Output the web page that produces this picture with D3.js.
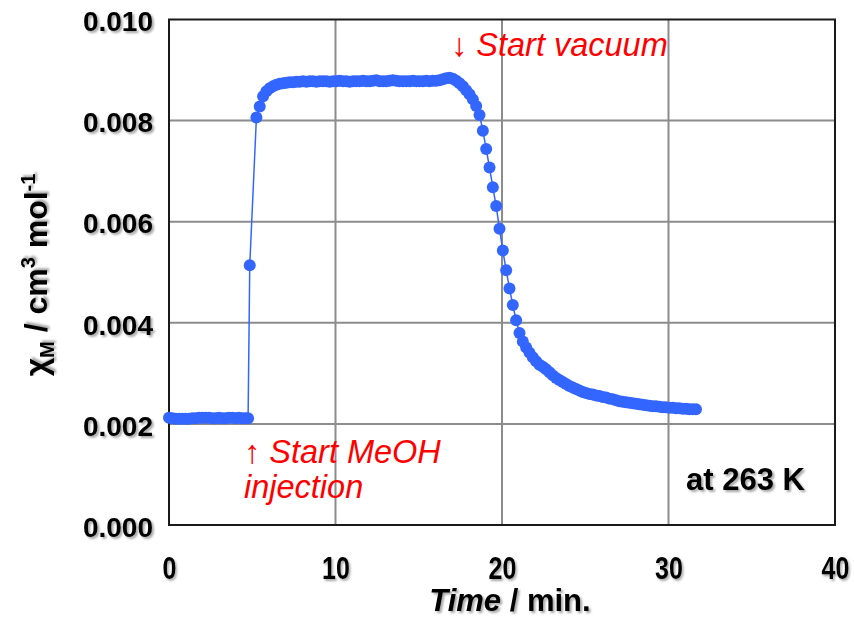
<!DOCTYPE html>
<html>
<head>
<meta charset="utf-8">
<script src="https://cdn.jsdelivr.net/npm/d3@7"></script>
<style>
  body { margin: 0; background: #fff; }
  text { font-family: "Liberation Sans", Arial, sans-serif; }
</style>
</head>
<body>
<div id="chart"></div>
<script>
// Data (time in min, chi_M in units of 1e-3 cm3 mol-1)
const times = [
  0, 0.2, 0.4, 0.6, 0.8, 1.0, 1.2, 1.4, 1.6, 1.8, 2.0, 2.2, 2.4, 2.6, 2.8, 3.0,
  3.2, 3.4, 3.6, 3.8, 4.0, 4.2, 4.4, 4.6, 4.75, 4.85,
  5.25, 5.45, 5.65, 5.85, 6.05, 6.25, 6.45, 6.65, 6.85, 7.05, 7.25, 7.45,
  7.65, 7.85, 8.05, 8.25, 8.45, 8.65, 8.85, 9.05, 9.25, 9.45,
  9.65, 9.85, 10.05, 10.25, 10.45, 10.65, 10.85, 11.05, 11.25, 11.45,
  11.65, 11.85, 12.05, 12.25, 12.45, 12.65, 12.85, 13.05, 13.25, 13.45,
  13.65, 13.85, 14.05, 14.25, 14.45, 14.65, 14.85, 15.05, 15.25, 15.45,
  15.65, 15.85, 16.05,
  16.25, 16.45, 16.65, 16.85, 17.05, 17.25, 17.45, 17.65, 17.85, 18.05,
  18.25, 18.45, 18.65, 18.85, 19.05, 19.25, 19.45, 19.65, 19.85, 20.05,
  20.25, 20.45, 20.65, 20.85, 21.05,
  21.25, 21.45, 21.65, 21.85, 22.05, 22.25, 22.45, 22.65, 22.85, 23.05,
  23.25, 23.45, 23.65, 23.85, 24.05, 24.25, 24.45, 24.65, 24.85, 25.05,
  25.25, 25.45, 25.65, 25.85, 26.05, 26.25, 26.45, 26.65, 26.85, 27.05,
  27.25, 27.45, 27.65, 27.85, 28.05, 28.25, 28.45, 28.65, 28.85, 29.05,
  29.25, 29.45, 29.65, 29.85, 30.05, 30.25, 30.45, 30.65, 30.85, 31.05,
  31.25, 31.45, 31.65
];
const chiM = [
  2.12, 2.11, 2.10, 2.10, 2.10, 2.10, 2.10, 2.11, 2.11, 2.12, 2.12, 2.12, 2.12, 2.11, 2.11, 2.12,
  2.11, 2.11, 2.12, 2.12, 2.11, 2.12, 2.11, 2.11, 2.11, 5.14,
  8.06, 8.28, 8.48, 8.58, 8.64, 8.68, 8.71, 8.73, 8.74, 8.75, 8.76, 8.76,
  8.77, 8.77, 8.78, 8.77, 8.78, 8.78, 8.77, 8.78, 8.78, 8.78,
  8.77, 8.78, 8.78, 8.79, 8.78, 8.78, 8.77, 8.78, 8.78, 8.78,
  8.79, 8.78, 8.78, 8.79, 8.80, 8.78, 8.78, 8.78, 8.79, 8.80,
  8.79, 8.78, 8.78, 8.78, 8.78, 8.79, 8.78, 8.78, 8.78, 8.79,
  8.78, 8.79, 8.79,
  8.80, 8.82, 8.84, 8.85, 8.83, 8.79, 8.74, 8.68, 8.60, 8.52,
  8.42, 8.29, 8.11, 7.80, 7.44, 7.07, 6.68, 6.31, 5.86, 5.43,
  5.04, 4.68, 4.35, 4.05, 3.80,
  3.63, 3.51, 3.41, 3.32, 3.24, 3.17, 3.13, 3.08, 3.02, 2.96,
  2.91, 2.87, 2.83, 2.79, 2.75, 2.72, 2.69, 2.66, 2.63, 2.61,
  2.59, 2.58, 2.56, 2.55, 2.53, 2.52, 2.50, 2.49, 2.47, 2.45,
  2.44, 2.43, 2.42, 2.41, 2.40, 2.39, 2.38, 2.37, 2.36, 2.35,
  2.35, 2.34, 2.33, 2.33, 2.32, 2.32, 2.31, 2.31, 2.30, 2.30,
  2.29, 2.29, 2.29
];
const xTicks = [0, 10, 20, 30, 40];
const yTicks = [0, 2, 4, 6, 8, 10];
const yTickLabels = ['0.000', '0.002', '0.004', '0.006', '0.008', '0.010'];

const data = times.map((t, i) => ({ t: t, v: chiM[i] }));

// Dimensions
const W = 854, H = 617;
const margin = { left: 169, right: 19, top: 19.5, bottom: 92 };
const width = W - margin.left - margin.right;
const height = H - margin.top - margin.bottom;

// Scales
const x = d3.scaleLinear().domain([0, 40]).range([0, width]);
const y = d3.scaleLinear().domain([0, 10]).range([height, 0]);

const root = d3.select('#chart').append('svg')
  .attr('width', W)
  .attr('height', H);

const defs = root.append('defs');
defs.append('filter')
  .attr('id', 'shadow')
  .attr('x', '-20%').attr('y', '-20%')
  .attr('width', '140%').attr('height', '140%')
  .append('feDropShadow')
  .attr('dx', 2).attr('dy', 2)
  .attr('stdDeviation', 1.3)
  .attr('flood-color', '#000')
  .attr('flood-opacity', 0.35);

const svg = root.append('g')
  .attr('transform', `translate(${margin.left},${margin.top})`);

// Grid
svg.append('g')
  .selectAll('line')
  .data(xTicks.slice(1, -1))
  .enter().append('line')
  .attr('x1', d => x(d)).attr('x2', d => x(d))
  .attr('y1', 0).attr('y2', height)
  .attr('stroke', '#8c8c8c').attr('stroke-width', 2);
svg.append('g')
  .selectAll('line')
  .data(yTicks.slice(1, -1))
  .enter().append('line')
  .attr('x1', 0).attr('x2', width)
  .attr('y1', d => y(d)).attr('y2', d => y(d))
  .attr('stroke', '#8c8c8c').attr('stroke-width', 2);

// Frame
svg.append('rect')
  .attr('x', 0).attr('y', 0)
  .attr('width', width).attr('height', height)
  .attr('fill', 'none')
  .attr('stroke', '#1a1a1a')
  .attr('stroke-width', 2);

// Axes (labels only)
const yAxis = svg.append('g')
  .call(d3.axisLeft(y).tickValues(yTicks).tickSize(0).tickPadding(16)
    .tickFormat((d, i) => yTickLabels[i]));
yAxis.select('.domain').remove();
yAxis.selectAll('text')
  .attr('font-family', '"Liberation Sans", Arial, sans-serif')
  .attr('font-size', 28)
  .attr('font-weight', 'bold')
  .attr('fill', '#000')
  .attr('dy', '0.4em')
  .attr('filter', 'url(#shadow)');

const xAxis = svg.append('g')
  .attr('transform', `translate(0,${height})`)
  .call(d3.axisBottom(x).tickValues(xTicks).tickSize(0).tickPadding(0));
xAxis.select('.domain').remove();
xAxis.selectAll('text')
  .attr('font-family', '"Liberation Sans", Arial, sans-serif')
  .attr('font-size', 32)
  .attr('font-weight', 'bold')
  .attr('fill', '#000')
  .attr('dy', 0)
  .attr('y', 54)
  .attr('transform', 'scale(0.78,1)')
  .attr('filter', 'url(#shadow)');

// Series
const blue = '#3366ff';
svg.append('path')
  .datum(data)
  .attr('fill', 'none')
  .attr('stroke', blue)
  .attr('stroke-width', 1.5)
  .attr('d', d3.line().x(d => x(d.t)).y(d => y(d.v)));
svg.selectAll('.pt')
  .data(data)
  .enter().append('circle')
  .attr('class', 'pt')
  .attr('cx', d => x(d.t))
  .attr('cy', d => y(d.v))
  .attr('r', 6)
  .attr('fill', blue);

// Axis titles
const xt = root.append('text')
  .attr('x', 510).attr('y', 611)
  .attr('text-anchor', 'middle')
  .attr('font-size', 31)
  .attr('font-weight', 'bold')
  .attr('filter', 'url(#shadow)');
xt.append('tspan').attr('font-style', 'italic').text('Time');
xt.append('tspan').text(' / min.');

const yt = root.append('text')
  .attr('transform', 'translate(47,275) rotate(-90)')
  .attr('text-anchor', 'middle')
  .attr('font-size', 32)
  .attr('font-weight', 'bold')
  .attr('filter', 'url(#shadow)');
yt.append('tspan').text('χ');
yt.append('tspan').attr('font-size', 20).attr('dy', 7).text('M');
yt.append('tspan').attr('dy', -7).text(' / cm');
yt.append('tspan').attr('font-size', 20).attr('dy', -12).text('3');
yt.append('tspan').attr('dy', 12).text(' mol');
yt.append('tspan').attr('font-size', 20).attr('dy', -12).text('-1');

// Annotations
const red = '#ff0000';
svg.append('text')
  .attr('x', 282).attr('y', 56 - margin.top)
  .attr('font-size', 32.5)
  .attr('font-style', 'italic')
  .attr('fill', red)
  .text('↓ Start vacuum');
const inj = svg.append('text')
  .attr('font-size', 32.5)
  .attr('font-style', 'italic')
  .attr('fill', red);
inj.append('tspan').attr('x', 75).attr('y', 463 - margin.top).text('↑ Start MeOH');
inj.append('tspan').attr('x', 75).attr('y', 498 - margin.top).text('injection');

svg.append('text')
  .attr('x', 517).attr('y', 490 - margin.top)
  .attr('font-size', 31)
  .attr('font-weight', 'bold')
  .attr('filter', 'url(#shadow)')
  .text('at 263 K');
</script>
</body>
</html>
